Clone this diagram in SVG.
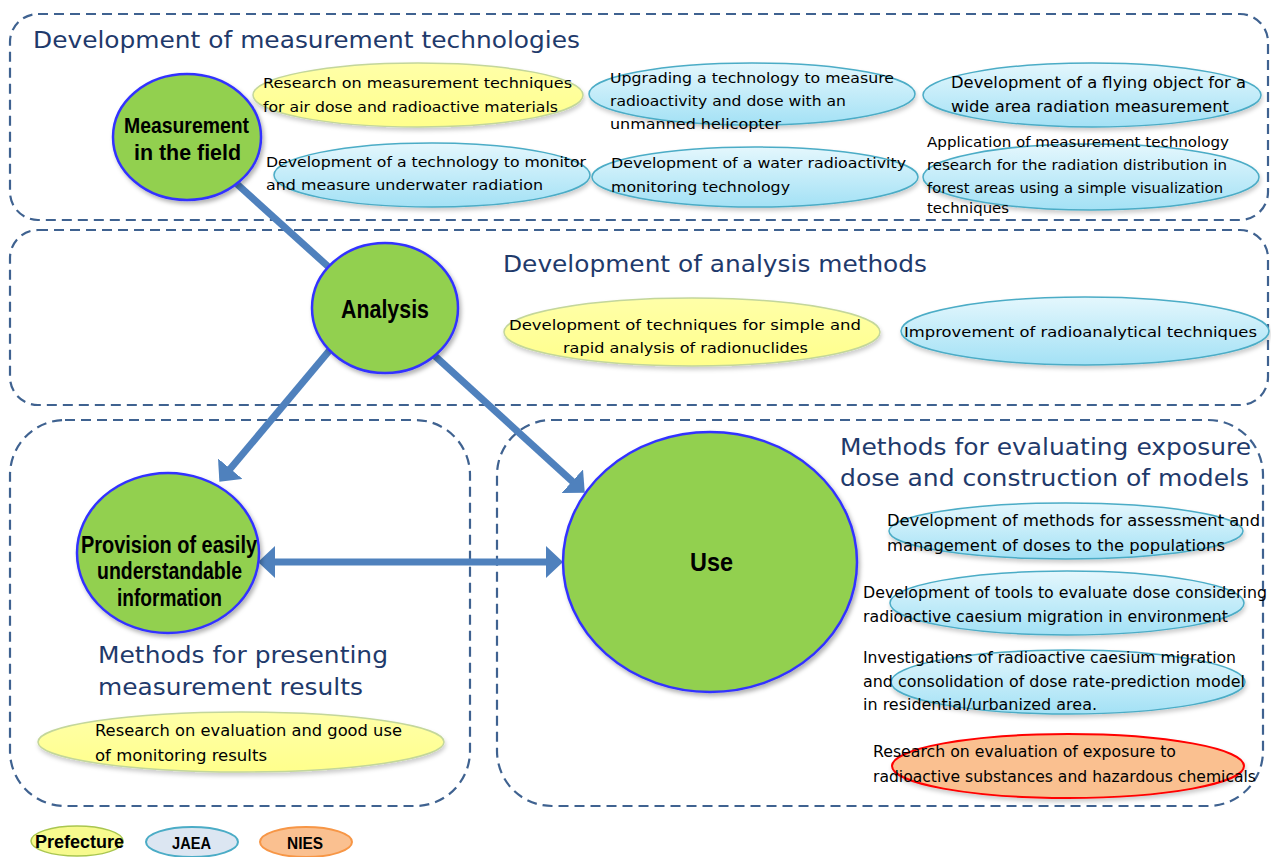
<svg xmlns="http://www.w3.org/2000/svg" width="1271" height="857" viewBox="0 0 1271 857">
<defs>
<style>
.box{fill:none;stroke:#3F6290;stroke-width:2.2;stroke-dasharray:10 6}
.ttl{font-family:"DejaVu Sans","Liberation Sans",sans-serif;font-size:23px;fill:#1F3A6B}
.circ{fill:#92D050;stroke:#3333FF;stroke-width:2.5;filter:url(#sh)}
.nl{font-family:"Liberation Sans Narrow","Liberation Sans",sans-serif;font-weight:bold;fill:#000}
.ob{fill:url(#gb);stroke:#4BACC6;stroke-width:1.5;filter:url(#sh2)}
.oy{fill:url(#gy);stroke:#C3D69B;stroke-width:1.5;filter:url(#sh2)}
.oo{fill:#FAC090;stroke:#FF0000;stroke-width:2;filter:url(#sh2)}
.t{font-family:"DejaVu Sans","Liberation Sans",sans-serif;font-size:14px;fill:#000}
.t2{font-family:"DejaVu Sans","Liberation Sans",sans-serif;font-size:15px;fill:#000}
.cn{fill:none;stroke:#4F81BD;stroke-width:7}
</style>
<linearGradient id="gb" x1="0" y1="0" x2="0" y2="1">
<stop offset="0" stop-color="#E4F7FD"/><stop offset="1" stop-color="#A3E1F5"/>
</linearGradient>
<linearGradient id="gy" x1="0" y1="0" x2="0" y2="1">
<stop offset="0" stop-color="#FFFFA8"/><stop offset="1" stop-color="#FFFF8C"/>
</linearGradient>
<filter id="sh" x="-20%" y="-20%" width="145%" height="150%">
<feDropShadow dx="2" dy="3" stdDeviation="2" flood-color="#000" flood-opacity="0.3"/>
</filter>
<filter id="sh2" x="-10%" y="-20%" width="125%" height="150%">
<feDropShadow dx="1" dy="3" stdDeviation="2" flood-color="#000" flood-opacity="0.2"/>
</filter>
<marker id="ah" viewBox="0 0 17 32" refX="2" refY="16" markerWidth="17" markerHeight="32" markerUnits="userSpaceOnUse" orient="auto-start-reverse">
<path d="M0,0 L17,16 L0,32 z" fill="#4F81BD"/>
</marker>
</defs>

<g id="areas">
<g id="area-measurement">
<rect class="box" x="10" y="14" width="1258" height="206" rx="28"/>
<text class="ttl" x="33" y="48" textLength="547" lengthAdjust="spacingAndGlyphs">Development of measurement technologies</text>
</g>
<g id="area-analysis">
<rect class="box" x="10" y="230" width="1258" height="175" rx="28"/>
<text class="ttl" x="503" y="272" textLength="424" lengthAdjust="spacingAndGlyphs">Development of analysis methods</text>
</g>
<g id="area-presenting">
<rect class="box" x="10" y="420" width="460" height="386" rx="55"/>
<text class="ttl" x="98" y="663" textLength="290" lengthAdjust="spacingAndGlyphs">Methods for presenting</text>
<text class="ttl" x="98" y="695" textLength="265" lengthAdjust="spacingAndGlyphs">measurement results</text>
</g>
<g id="area-exposure">
<rect class="box" x="497" y="420" width="766" height="386" rx="55"/>
<text class="ttl" x="840" y="455" textLength="411" lengthAdjust="spacingAndGlyphs">Methods for evaluating exposure</text>
<text class="ttl" x="840" y="486" textLength="409" lengthAdjust="spacingAndGlyphs">dose and construction of models</text>
</g>
</g>

<g id="connectors">
<line class="cn" x1="216" y1="165" x2="343" y2="280"/>
<line class="cn" x1="342" y1="335.5" x2="229" y2="470.3" marker-end="url(#ah)"/>
<line class="cn" x1="421.4" y1="343.7" x2="573.7" y2="482.6" marker-end="url(#ah)"/>
<line class="cn" x1="273" y1="562" x2="548" y2="562" marker-start="url(#ah)" marker-end="url(#ah)"/>
</g>

<g id="node-measurement">
<ellipse class="circ" cx="187" cy="137" rx="74" ry="63"/>
<text class="nl" x="124" y="133" font-size="22" textLength="125" lengthAdjust="spacingAndGlyphs">Measurement</text>
<text class="nl" x="134" y="160" font-size="22" textLength="107" lengthAdjust="spacingAndGlyphs">in the field</text>
</g>
<g id="node-analysis">
<ellipse class="circ" cx="385" cy="308" rx="73" ry="65"/>
<text class="nl" x="341" y="318" font-size="25" textLength="88" lengthAdjust="spacingAndGlyphs">Analysis</text>
</g>
<g id="node-provision">
<ellipse class="circ" cx="168" cy="553" rx="91" ry="80"/>
<text class="nl" x="81" y="553" font-size="23" textLength="176" lengthAdjust="spacingAndGlyphs">Provision of easily</text>
<text class="nl" x="97" y="579" font-size="23" textLength="145" lengthAdjust="spacingAndGlyphs">understandable</text>
<text class="nl" x="117" y="606" font-size="23" textLength="105" lengthAdjust="spacingAndGlyphs">information</text>
</g>
<g id="node-use">
<ellipse class="circ" cx="710" cy="562" rx="147" ry="130"/>
<text class="nl" x="690" y="571" font-size="26" textLength="43" lengthAdjust="spacingAndGlyphs">Use</text>
</g>

<g id="item-air-dose">
<ellipse class="oy" cx="418" cy="95" rx="165" ry="32"/>
<text class="t" x="263" y="88" textLength="309" lengthAdjust="spacingAndGlyphs">Research on measurement  techniques</text>
<text class="t" x="263" y="112" textLength="295" lengthAdjust="spacingAndGlyphs">for air dose and radioactive materials</text>
</g>
<g id="item-helicopter">
<ellipse class="ob" cx="752" cy="94" rx="163" ry="31"/>
<text class="t" x="610" y="83" textLength="284" lengthAdjust="spacingAndGlyphs">Upgrading a technology to measure</text>
<text class="t" x="610" y="106" textLength="236" lengthAdjust="spacingAndGlyphs">radioactivity and dose with an</text>
<text class="t" x="610" y="129" textLength="171" lengthAdjust="spacingAndGlyphs">unmanned helicopter</text>
</g>
<g id="item-flying">
<ellipse class="ob" cx="1092" cy="95" rx="169" ry="32"/>
<text class="t2" x="951" y="88" textLength="295" lengthAdjust="spacingAndGlyphs">Development of a flying object for a</text>
<text class="t2" x="951" y="112" textLength="278" lengthAdjust="spacingAndGlyphs">wide area radiation measurement</text>
</g>
<g id="item-underwater">
<ellipse class="ob" cx="432" cy="175" rx="158" ry="32"/>
<text class="t" x="266" y="167" textLength="320" lengthAdjust="spacingAndGlyphs">Development of a technology to monitor</text>
<text class="t" x="266" y="190" textLength="277" lengthAdjust="spacingAndGlyphs">and measure underwater radiation</text>
</g>
<g id="item-water">
<ellipse class="ob" cx="755" cy="177" rx="163" ry="30"/>
<text class="t" x="611" y="168" textLength="295" lengthAdjust="spacingAndGlyphs">Development of a water radioactivity</text>
<text class="t" x="611" y="192" textLength="179" lengthAdjust="spacingAndGlyphs">monitoring technology</text>
</g>
<g id="item-forest">
<ellipse class="ob" cx="1091" cy="177" rx="168" ry="33"/>
<text class="t" x="927" y="147" textLength="302" lengthAdjust="spacingAndGlyphs">Application of measurement technology</text>
<text class="t" x="927" y="170" textLength="300" lengthAdjust="spacingAndGlyphs">research for the radiation distribution in</text>
<text class="t" x="927" y="193" textLength="296" lengthAdjust="spacingAndGlyphs">forest areas using a simple visualization</text>
<text class="t" x="927" y="213" textLength="82" lengthAdjust="spacingAndGlyphs">techniques</text>
</g>
<g id="item-rapid-analysis">
<ellipse class="oy" cx="692" cy="332" rx="188" ry="34"/>
<text class="t" x="509" y="330" textLength="352" lengthAdjust="spacingAndGlyphs">Development of techniques for simple and</text>
<text class="t" x="563" y="353" textLength="245" lengthAdjust="spacingAndGlyphs">rapid analysis of radionuclides</text>
</g>
<g id="item-radioanalytical">
<ellipse class="ob" cx="1085" cy="331" rx="184" ry="34"/>
<text class="t" x="904" y="337" textLength="353" lengthAdjust="spacingAndGlyphs">Improvement of radioanalytical techniques</text>
</g>
<g id="item-monitoring-results">
<ellipse class="oy" cx="241" cy="742" rx="203" ry="30"/>
<text class="t2" x="95" y="736" textLength="307" lengthAdjust="spacingAndGlyphs">Research on evaluation and good use</text>
<text class="t2" x="95" y="761" textLength="172" lengthAdjust="spacingAndGlyphs">of monitoring results</text>
</g>
<g id="item-dose-populations">
<ellipse class="ob" cx="1066" cy="531" rx="177" ry="28"/>
<text class="t2" x="887" y="526" textLength="373" lengthAdjust="spacingAndGlyphs">Development of methods for assessment and</text>
<text class="t2" x="887" y="551" textLength="338" lengthAdjust="spacingAndGlyphs">management of doses to the populations</text>
</g>
<g id="item-dose-tools">
<ellipse class="ob" cx="1067" cy="603" rx="177" ry="32"/>
<text class="t2" x="863" y="598" textLength="404" lengthAdjust="spacingAndGlyphs">Development of tools to evaluate dose considering</text>
<text class="t2" x="863" y="622" textLength="365" lengthAdjust="spacingAndGlyphs">radioactive caesium migration in environment</text>
</g>
<g id="item-caesium-migration">
<ellipse class="ob" cx="1068" cy="682" rx="177" ry="32"/>
<text class="t2" x="863" y="663" textLength="373" lengthAdjust="spacingAndGlyphs">Investigations of radioactive caesium migration</text>
<text class="t2" x="863" y="687" textLength="382" lengthAdjust="spacingAndGlyphs">and consolidation of dose rate-prediction model</text>
<text class="t2" x="863" y="710" textLength="234" lengthAdjust="spacingAndGlyphs">in residential/urbanized area.</text>
</g>
<g id="item-hazardous">
<ellipse class="oo" cx="1068" cy="766" rx="176" ry="32"/>
<text class="t2" x="873" y="757" textLength="303" lengthAdjust="spacingAndGlyphs">Research on evaluation of exposure to</text>
<text class="t2" x="873" y="782" textLength="383" lengthAdjust="spacingAndGlyphs">radioactive substances and hazardous chemicals</text>
</g>

<g id="legend">
<g id="legend-prefecture">
<ellipse cx="77" cy="841" rx="46" ry="15" fill="#F7FA8E" stroke="#A9C64F" stroke-width="1.5"/>
<text class="nl" x="35" y="848" font-size="19" textLength="89" lengthAdjust="spacingAndGlyphs">Prefecture</text>
</g>
<g id="legend-jaea">
<ellipse cx="192" cy="842" rx="46" ry="15" fill="#DCE6F2" stroke="#4BACC6" stroke-width="2"/>
<text class="nl" x="172" y="849" font-size="17" textLength="39" lengthAdjust="spacingAndGlyphs">JAEA</text>
</g>
<g id="legend-nies">
<ellipse cx="306" cy="842" rx="46" ry="15" fill="#FAC090" stroke="#F79646" stroke-width="2"/>
<text class="nl" x="287" y="849" font-size="17" textLength="36" lengthAdjust="spacingAndGlyphs">NIES</text>
</g>
</g>
</svg>
